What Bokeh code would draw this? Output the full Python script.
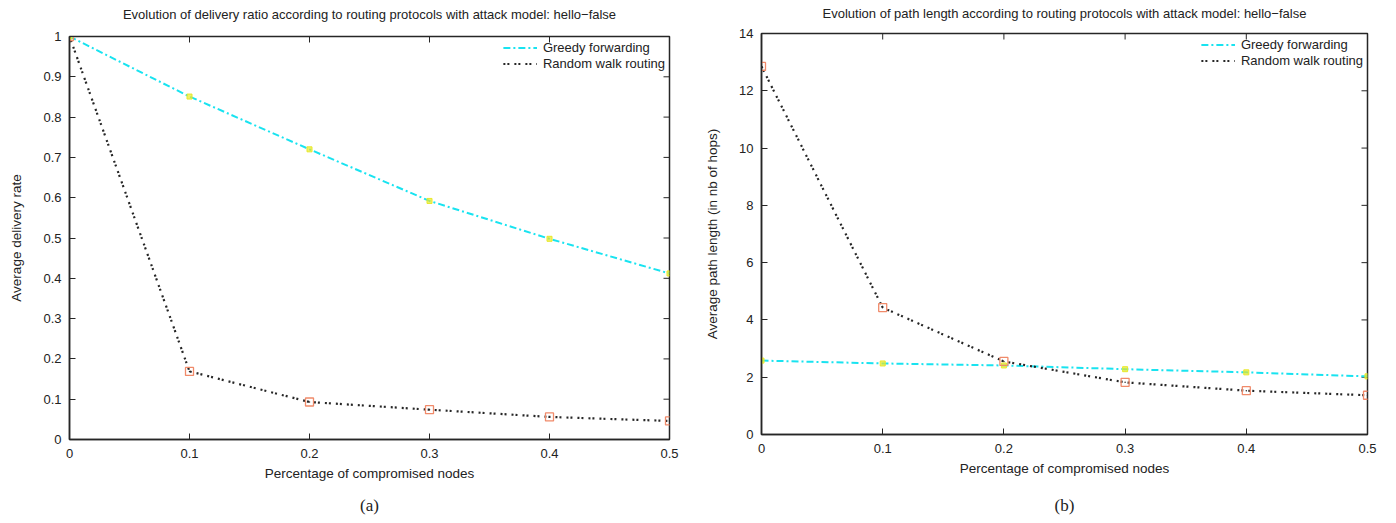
import math
from bokeh.plotting import figure
from bokeh.layouts import row, column
from bokeh.models import Range1d, FixedTicker, Legend, LegendItem, LinearAxis
from bokeh.embed import file_html
from bokeh.resources import INLINE

# ---------------- data ----------------
x_frac = [0, 0.1, 0.2, 0.3, 0.4, 0.5]

# (a) delivery ratio
greedy_ratio = [1.0, 0.851, 0.72, 0.592, 0.498, 0.412]
random_ratio = [1.0, 0.169, 0.093, 0.074, 0.056, 0.046]

# (b) path length
greedy_path = [2.58, 2.48, 2.41, 2.28, 2.17, 2.03]
random_path = [12.85, 4.43, 2.55, 1.82, 1.53, 1.37]

x_ticks = [0, 0.1, 0.2, 0.3, 0.4, 0.5]
x_tick_labels = ["0", "0.1", "0.2", "0.3", "0.4", "0.5"]
ya_ticks = [0, 0.1, 0.2, 0.3, 0.4, 0.5, 0.6, 0.7, 0.8, 0.9, 1]
ya_tick_labels = ["0", "0.1", "0.2", "0.3", "0.4", "0.5", "0.6", "0.7", "0.8", "0.9", "1"]
yb_ticks = [0, 2, 4, 6, 8, 10, 12, 14]
yb_tick_labels = ["0", "2", "4", "6", "8", "10", "12", "14"]

series_names = ["Greedy forwarding", "Random walk routing"]
titles = [
    "Evolution of delivery ratio according to routing protocols with attack model: hello\u2212false",
    "Evolution of path length according to routing protocols with attack model: hello\u2212false",
]
x_label = "Percentage of compromised nodes"
y_labels = ["Average delivery rate", "Average path length (in nb of hops)"]
captions = ["(a)", "(b)"]

FONT = "Liberation Sans"
CYAN = "#19e3f0"
DARK = "#262626"
SALMON = "#f08a6a"
YELLOW = "#e8e82a"


def style_axis(ax, ticks, labels):
    ax.ticker = FixedTicker(ticks=ticks)
    ax.major_label_overrides = {t: l for t, l in zip(ticks, labels)}
    ax.minor_tick_line_color = None
    ax.major_tick_in = 6
    ax.major_tick_out = 0
    ax.major_tick_line_color = DARK
    ax.major_tick_line_width = 1
    ax.axis_line_color = DARK
    ax.axis_line_width = 1.5
    ax.major_label_text_font = FONT
    ax.major_label_text_font_size = "13px"
    ax.major_label_text_color = "#222222"
    ax.axis_label_text_font = FONT
    ax.axis_label_text_font_size = "13.5px"
    ax.axis_label_text_font_style = "normal"
    ax.axis_label_text_color = "#222222"


def text_only_axis(text, font, size, standoff):
    ax = LinearAxis(ticker=FixedTicker(ticks=[]), axis_label=text)
    ax.axis_line_color = None
    ax.major_tick_line_color = None
    ax.minor_tick_line_color = None
    ax.major_label_standoff = 0
    ax.major_tick_out = 0
    ax.major_tick_in = 0
    ax.axis_label_standoff = standoff
    ax.axis_label_text_font = font
    ax.axis_label_text_font_size = size
    ax.axis_label_text_font_style = "normal"
    ax.axis_label_text_color = "#222222"
    return ax


def make(idx, ydata_g, ydata_r, yr, yticks, ylabels, w, h, borders, cap_standoff, title_standoff):
    p = figure(width=w, height=h, output_backend="svg", toolbar_location=None,
               x_range=Range1d(0, 0.5), y_range=Range1d(*yr),
               min_border_left=borders[0], min_border_right=borders[1],
               min_border_top=borders[2], min_border_bottom=borders[3])
    p.grid.visible = False
    p.outline_line_color = DARK
    p.outline_line_width = 1.5
    p.background_fill_color = "white"
    p.border_fill_color = "white"

    x_main = p.below[0]
    y_main = p.left[0]

    style_axis(x_main, x_ticks, x_tick_labels)
    x_main.axis_label = x_label
    x_main.major_label_standoff = 9
    x_main.axis_label_standoff = 5
    style_axis(y_main, yticks, ylabels)
    y_main.axis_label = y_labels[idx]
    y_main.major_label_standoff = 8
    y_main.axis_label_standoff = 16

    # chart title, drawn above the frame
    p.add_layout(text_only_axis(titles[idx], FONT, "13px", title_standoff), "above")
    # caption "(a)" / "(b)" under the x-axis title
    p.add_layout(text_only_axis(captions[idx], "Liberation Serif", "17px", cap_standoff), "below")

    # mirrored inward ticks on the top and right edges (gnuplot style)
    n_x = len(x_ticks)
    n_y = len(yticks)
    p.scatter(x_ticks, [yr[1]] * n_x, marker="dash", angle=math.pi / 2, size=12,
              line_color=DARK, line_width=1)
    p.scatter([x_ticks[-1]] * n_y, yticks, marker="dash", size=12,
              line_color=DARK, line_width=1)

    lg = p.line(x_frac, ydata_g, line_color=CYAN, line_width=2, line_dash="7 3 2 3")
    lr = p.line(x_frac, ydata_r, line_color=DARK, line_width=2.2, line_dash="2 2 2 5")
    p.scatter(x_frac, ydata_g, marker="square", size=5, fill_color=YELLOW,
              line_color=YELLOW, fill_alpha=0.7)
    p.scatter(x_frac, ydata_r, marker="square", size=8, fill_color=None,
              line_color=SALMON, line_width=1.3)
    p.scatter(x_frac, ydata_r, marker="dot", size=6, line_color=DARK)

    legend = Legend(items=[LegendItem(label=series_names[0], renderers=[lg]),
                           LegendItem(label=series_names[1], renderers=[lr])],
                    location="top_right")
    legend.border_line_color = None
    legend.background_fill_alpha = 0
    legend.label_text_font = FONT
    legend.label_text_font_size = "13px"
    legend.label_text_line_height = 1.0
    legend.label_text_color = "#222222"
    legend.glyph_width = 34
    legend.glyph_height = 13
    legend.label_height = 13
    legend.spacing = 1
    legend.padding = 2
    legend.margin = 4
    legend.label_standoff = 6
    p.add_layout(legend)
    return p


p1 = make(0, greedy_ratio, random_ratio, (0, 1), ya_ticks, ya_tick_labels,
          697, 520, (69, 28, 36, 81), 12, 15)
p2 = make(1, greedy_path, random_path, (0, 14), yb_ticks, yb_tick_labels,
          690, 520, (64, 20, 33, 86), 17, 13)

layout = row(column(p1), column(p2))
open("out.html", "w").write(file_html(layout, INLINE))
